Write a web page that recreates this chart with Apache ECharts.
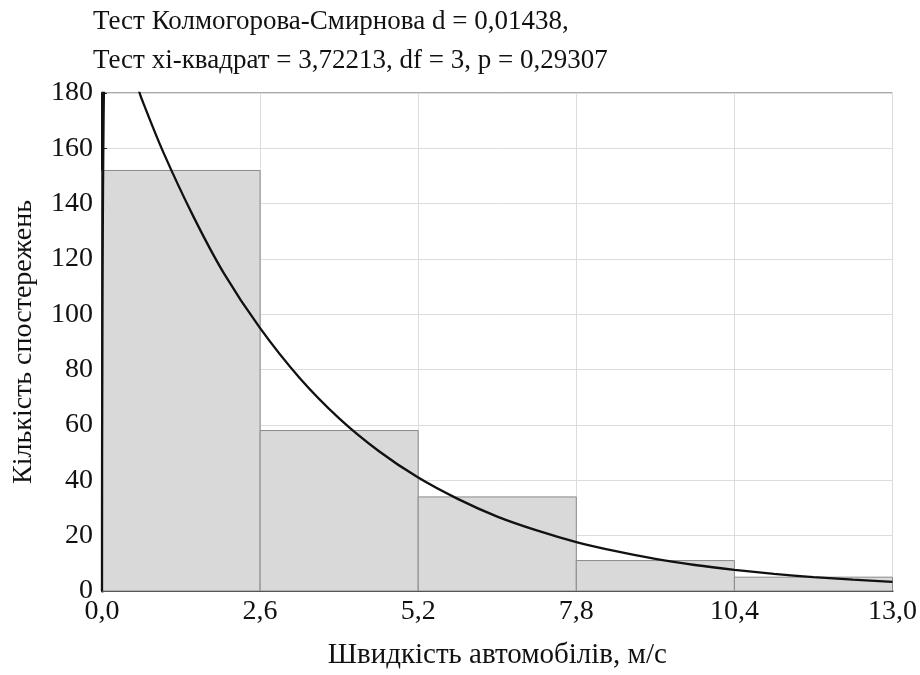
<!DOCTYPE html>
<html><head><meta charset="utf-8">
<script src="https://cdn.jsdelivr.net/npm/echarts@6/dist/echarts.min.js"></script>
<style>html,body{margin:0;padding:0;background:#fff}#c{width:920px;height:675px}</style>
</head><body><div id="c"></div>
<script>
const titleLines = ["Тест Колмогорова-Смирнова d = 0,01438,", "Тест xi-квадрат = 3,72213, df = 3, p = 0,29307"];
const xAxisName = "Швидкість автомобілів, м/с";
const yAxisName = "Кількість спостережень";
const binStarts = [0, 2.6, 5.2, 7.8, 10.4];
const binEnds = [2.6, 5.2, 7.8, 10.4, 13.0];
const binCounts = [152, 58, 34, 11, 5];
const curveX = [0, 0.06, 0.5, 0.65, 1.0, 1.5, 2.0, 2.6, 3.25, 3.9, 4.55, 5.2, 5.85, 6.5, 7.15, 7.8, 8.45, 9.1, 9.75, 10.4, 11.05, 11.7, 12.35, 13.0];
const curveY = [0, 200, 187, 178, 159, 135.5, 115, 95, 77, 62.4, 50.6, 41, 33.3, 26.9, 21.9, 17.7, 14.4, 11.6, 9.4, 7.65, 6.2, 5.0, 4.1, 3.3];
const xTicks = ["0,0", "2,6", "5,2", "7,8", "10,4", "13,0"];
const yTicks = [0, 20, 40, 60, 80, 100, 120, 140, 160, 180];

const font = '"Liberation Serif", "Times New Roman", serif';
const chart = echarts.init(document.getElementById('c'), null, {renderer: 'canvas'});
const barData = binStarts.map((s, i) => [s, binEnds[i], binCounts[i]]);
const lineData = curveX.map((x, i) => [x, curveY[i]]);

chart.setOption({
  animation: false,
  title: {
    text: titleLines.join('\n'),
    left: 88, top: -3,
    textStyle: {fontFamily: font, fontSize: 27, fontWeight: 'normal', color: '#111', lineHeight: 39}
  },
  grid: {left: 102, right: 27, top: 93, bottom: 81, show: true, borderColor: '#555', borderWidth: 1, backgroundColor: 'transparent'},
  xAxis: {
    type: 'value', min: 0, max: 13, interval: 2.6,
    name: xAxisName, nameLocation: 'middle', nameGap: 50,
    nameTextStyle: {fontFamily: font, fontSize: 29, color: '#111'},
    axisLine: {show: true, onZero: false, lineStyle: {color: '#222', width: 2}},
    axisTick: {show: true, inside: true, length: 5, lineStyle: {color: '#222'}},
    axisLabel: {fontFamily: font, fontSize: 28, color: '#111', margin: 7,
      formatter: (v) => { const i = Math.round(v / 2.6); return xTicks[i] !== undefined ? xTicks[i] : ''; }},
    splitLine: {show: true, lineStyle: {color: '#dcdcdc', width: 1}}
  },
  yAxis: {
    type: 'value', min: 0, max: 180, interval: 20,
    name: yAxisName, nameLocation: 'middle', nameGap: 64,
    nameTextStyle: {fontFamily: font, fontSize: 28, color: '#111'},
    axisLine: {show: true, lineStyle: {color: '#111', width: 3}},
    axisTick: {show: true, inside: true, length: 5, lineStyle: {color: '#222'}},
    axisLabel: {fontFamily: font, fontSize: 28, color: '#111', margin: 9,
      formatter: (v) => yTicks.indexOf(v) >= 0 ? String(v) : ''},
    splitLine: {show: true, lineStyle: {color: '#dcdcdc', width: 1}}
  },
  series: [
    {
      type: 'custom',
      data: barData,
      encode: {x: [0, 1], y: 2},
      renderItem: function (params, api) {
        const p0 = api.coord([api.value(0), api.value(2)]);
        const p1 = api.coord([api.value(1), 0]);
        return {
          type: 'rect',
          shape: {x: p0[0], y: p0[1], width: p1[0] - p0[0], height: p1[1] - p0[1]},
          style: {fill: '#d9d9d9', stroke: '#8a8a8a', lineWidth: 1}
        };
      },
      z: 2
    },
    {
      type: 'line',
      data: lineData,
      showSymbol: false,
      smooth: 0.3,
      clip: true,
      lineStyle: {color: '#111', width: 2.3},
      z: 5
    }
  ]
});
</script></body></html>
